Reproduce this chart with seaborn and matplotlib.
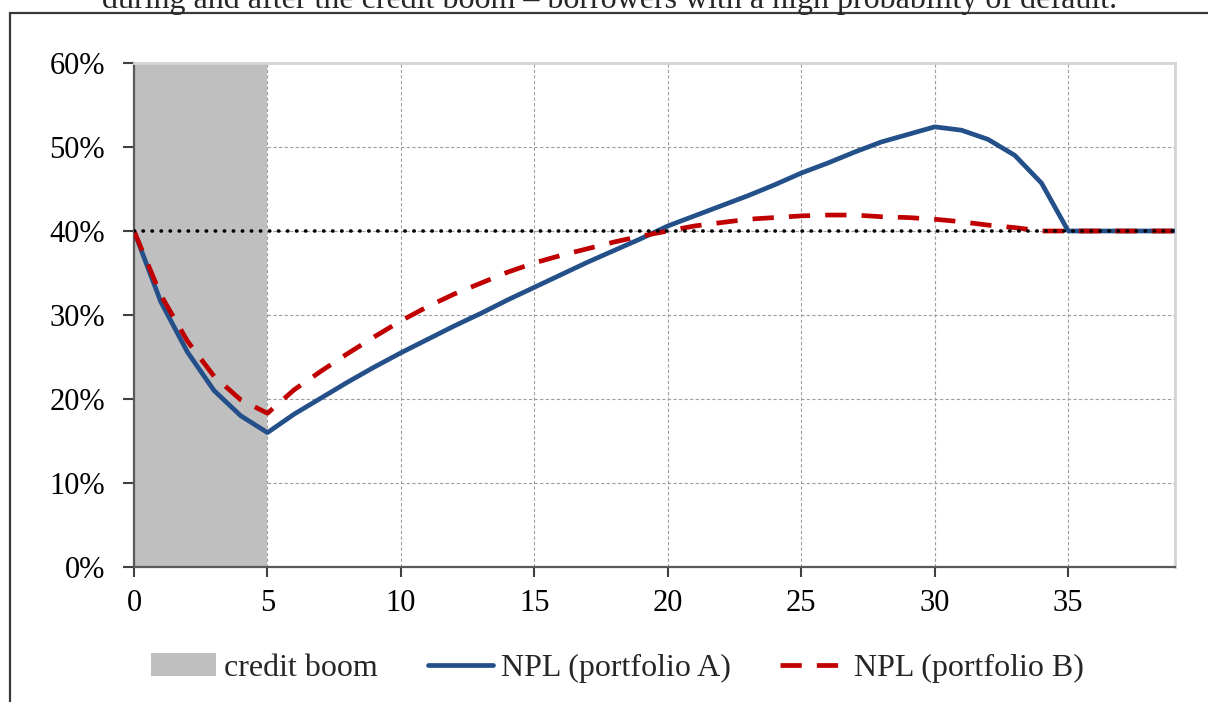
import numpy as np
import pandas as pd
import seaborn as sns
import matplotlib.pyplot as plt
from matplotlib.patches import Patch, Rectangle
from matplotlib.lines import Line2D
from matplotlib.ticker import PercentFormatter

# ==========================================
# DATA (in %)
# ==========================================
PERIODS = list(range(0, 40))

NPL_A = [40.0, 31.6, 25.6, 21.0, 18.0, 16.0, 18.2, 20.1, 22.0, 23.8,
         25.5, 27.1, 28.7, 30.2, 31.8, 33.3, 34.8, 36.3, 37.7, 39.1,
         40.6, 41.8, 43.0, 44.2, 45.5, 46.9, 48.1, 49.4, 50.6, 51.5,
         52.4, 52.0, 50.9, 49.0, 45.7, 40.0, 40.0, 40.0, 40.0, 40.0]

NPL_B = [40.0, 32.4, 26.9, 22.7, 19.9, 18.3, 21.1, 23.3, 25.4, 27.4,
         29.3, 31.0, 32.5, 33.8, 35.1, 36.2, 37.1, 37.9, 38.7, 39.4,
         40.0, 40.6, 41.0, 41.4, 41.6, 41.8, 41.9, 41.9, 41.7, 41.6,
         41.4, 41.1, 40.7, 40.4, 40.0, 40.0, 40.0, 40.0, 40.0, 40.0]

BOOM_START, BOOM_END = 0, 5
THRESHOLD = 40.0

X_TICKS = [0, 5, 10, 15, 20, 25, 30, 35]
Y_TICKS = [0, 10, 20, 30, 40, 50, 60]

LABEL_BOOM = "credit boom"
LABEL_A = "NPL (portfolio A)"
LABEL_B = "NPL (portfolio B)"
TITLE = "during and after the credit boom \u2013 borrowers with a high probability of default."

BLUE = "#24508A"
RED = "#C00000"
GREY = "#BFBFBF"
DASH = (0, (4.5, 3.2))
LW = 3.4
# ==========================================


def main():
    sns.set_theme(style="white")
    plt.rcParams['font.family'] = ['Liberation Serif', 'DejaVu Serif']
    plt.rcParams['font.size'] = 22

    df = pd.DataFrame({"period": PERIODS, "A": NPL_A, "B": NPL_B})

    fig = plt.figure(figsize=(12.08, 7.02), dpi=100)
    ax = fig.add_axes([134 / 1208, 1 - 567 / 702, (1175 - 134) / 1208, (567 - 63) / 702])

    # grid below everything
    ax.set_axisbelow(True)
    ax.grid(True, which='major', color="#A0A0A0", linestyle=(0, (3, 2)), linewidth=0.8)

    ax.axvspan(BOOM_START, BOOM_END, color=GREY, lw=0, zorder=1)

    sns.lineplot(data=df, x="period", y="A", ax=ax, color=BLUE, linewidth=LW,
                 zorder=3, legend=False)
    line_a = ax.lines[-1]
    sns.lineplot(data=df, x="period", y="B", ax=ax, color=RED, linewidth=LW,
                 zorder=4, legend=False)
    line_b = ax.lines[-1]
    line_a.set_linewidth(LW)
    line_b.set_linewidth(LW)
    line_b.set_linestyle(DASH)

    ax.axhline(THRESHOLD, color="black", lw=2.6, linestyle=(0, (0.1, 2.4)),
               dash_capstyle='round', zorder=5)

    ax.set_xlim(0, 39)
    ax.set_ylim(0, 60)
    ax.set_xticks(X_TICKS)
    ax.set_yticks(Y_TICKS)
    ax.yaxis.set_major_formatter(PercentFormatter(100, decimals=0))
    ax.set_xlabel("")
    ax.set_ylabel("")

    ax.tick_params(axis='y', direction='out', length=8, width=1.5, pad=13,
                   colors="#404040", labelcolor="black", labelsize=22, left=True)
    ax.tick_params(axis='x', direction='out', length=7, width=1.5, pad=9,
                   colors="#404040", labelcolor="black", labelsize=22, bottom=True)

    for side in ("left", "bottom"):
        ax.spines[side].set_color("#595959")
        ax.spines[side].set_linewidth(1.6)
    for side in ("top", "right"):
        ax.spines[side].set_color("#D4D4D4")
        ax.spines[side].set_linewidth(2.0)

    handles = [
        Patch(facecolor=GREY, edgecolor='none', label=LABEL_BOOM),
        Line2D([0], [0], color=BLUE, lw=LW, label=LABEL_A),
        Line2D([0], [0], color=RED, lw=LW, linestyle=DASH, label=LABEL_B),
    ]
    fig.legend(handles=handles, loc='center', bbox_to_anchor=(0.511, 1 - 668 / 702),
               ncol=3, frameon=False, fontsize=23, handlelength=2.05,
               handletextpad=0.25, columnspacing=1.55)

    # cut-off caption line above the chart (as in the source figure)
    fig.text(0.505, 1 - 8 / 702, TITLE, ha='center', va='baseline', fontsize=23)

    # outer frame (only top and left edges are inside the picture)
    frame = Rectangle((10 / 1208, -0.05), 1.1, 1 - 13 / 702 + 0.05,
                      transform=fig.transFigure, fill=False,
                      edgecolor="#3A3A3A", lw=1.6, clip_on=False)
    fig.patches.append(frame)

    fig.savefig("out.png", dpi=100)


if __name__ == "__main__":
    main()
